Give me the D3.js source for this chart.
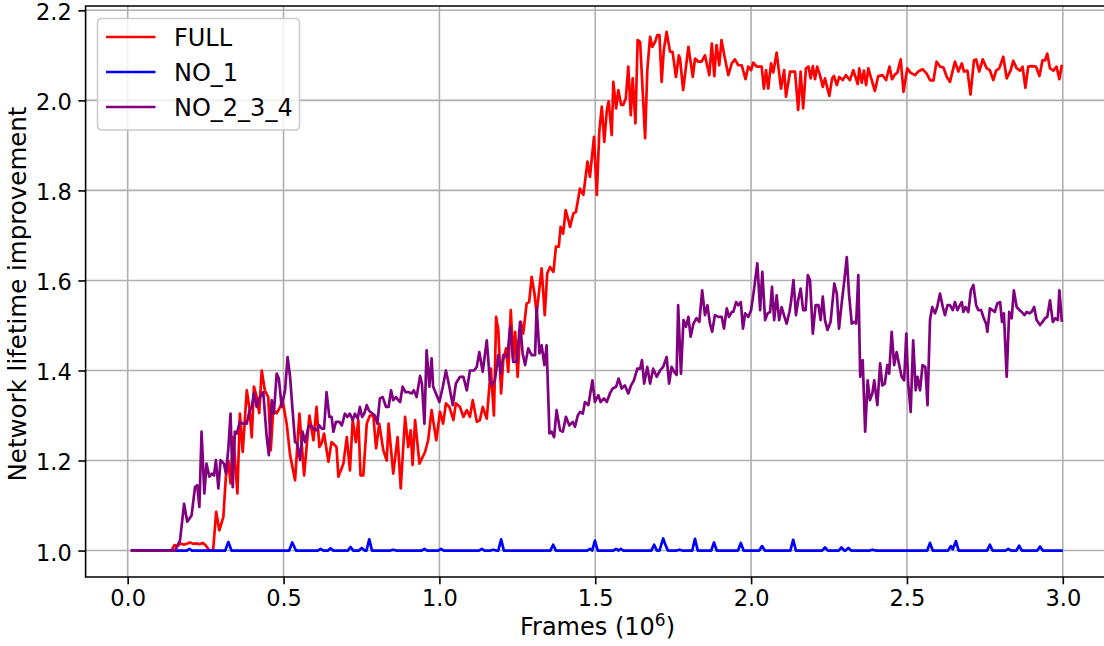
<!DOCTYPE html>
<html>
<head>
<meta charset="utf-8">
<script src="https://cdn.jsdelivr.net/npm/d3@7"></script>
<style>
	body { margin: 0; background: white; }
	svg { display: block; font-family: "DejaVu Sans", sans-serif; }
</style>
</head>
<body>
<svg id="plot" width="1104" height="646" viewBox="0 0 1104 646"></svg>
<script>

// series: [frames (1e6), lifetime improvement]
const full_points = [
	[0.01,1.0],[0.05,1.0],[0.10,1.0],[0.14,1.0],[0.15,1.012],[0.16,1.01],[0.17,1.016],[0.18,1.013],[0.19,1.015],
	[0.20,1.018],[0.21,1.015],[0.22,1.016],[0.23,1.014],[0.24,1.017],[0.25,1.012],[0.262,1.0],[0.274,1.0],
	[0.284,1.086],[0.294,1.045],[0.307,1.075],[0.315,1.164],[0.323,1.20],[0.330,1.149],[0.339,1.252],[0.352,1.127],
	[0.360,1.304],[0.369,1.219],[0.382,1.356],[0.390,1.319],[0.398,1.252],[0.405,1.364],[0.414,1.341],[0.422,1.305],
	[0.430,1.40],[0.440,1.356],[0.451,1.341],[0.459,1.223],[0.467,1.312],[0.478,1.305],[0.489,1.319],[0.497,1.334],
	[0.510,1.282],[0.521,1.212],[0.537,1.156],[0.551,1.304],[0.566,1.167],[0.583,1.30],[0.596,1.245],[0.606,1.319],
	[0.615,1.23],[0.622,1.238],[0.630,1.26],[0.644,1.197],[0.654,1.241],[0.670,1.23],[0.676,1.164],[0.692,1.193],
	[0.703,1.252],[0.713,1.178],[0.722,1.29],[0.732,1.241],[0.740,1.29],[0.747,1.167],[0.756,1.167],[0.767,1.282],
	[0.777,1.30],[0.788,1.30],[0.797,1.227],[0.807,1.282],[0.820,1.223],[0.831,1.20],[0.837,1.282],[0.852,1.171],
	[0.866,1.252],[0.876,1.138],[0.890,1.297],[0.900,1.23],[0.908,1.267],[0.914,1.19],[0.922,1.29],[0.936,1.193],
	[0.954,1.219],[0.964,1.245],[0.975,1.312],[0.990,1.245],[1.002,1.308],[1.012,1.282],[1.021,1.327],[1.032,1.319],
	[1.045,1.29],[1.053,1.327],[1.066,1.319],[1.077,1.297],[1.088,1.312],[1.098,1.297],[1.107,1.334],[1.120,1.286],
	[1.130,1.29],[1.139,1.319],[1.152,1.293],[1.165,1.404],[1.175,1.30],[1.182,1.519],[1.189,1.49],[1.198,1.349],
	[1.205,1.423],[1.214,1.449],[1.221,1.397],[1.229,1.534],[1.237,1.423],[1.243,1.486],[1.251,1.386],[1.261,1.508],
	[1.269,1.482],[1.280,1.549],[1.288,1.552],[1.296,1.608],[1.305,1.571],[1.312,1.527],[1.328,1.627],[1.338,1.523],
	[1.346,1.616],[1.355,1.63],[1.366,1.619],[1.374,1.675],[1.383,1.675],[1.389,1.719],[1.397,1.704],[1.405,1.756],
	[1.414,1.734],[1.419,1.719],[1.430,1.749],[1.438,1.752],[1.451,1.804],[1.462,1.79],[1.475,1.864],[1.483,1.83],
	[1.496,1.919],[1.505,1.79],[1.513,1.93],[1.521,1.986],[1.529,1.908],[1.537,1.977],[1.543,1.998],[1.553,1.923],
	[1.558,2.041],[1.567,1.982],[1.574,2.023],[1.583,1.99],[1.590,1.99],[1.598,2.004],[1.606,2.075],[1.614,1.967],
	[1.620,2.049],[1.629,1.949],[1.636,2.134],[1.644,2.13],[1.660,1.916],[1.667,2.067],[1.676,2.141],[1.683,2.119],
	[1.692,2.13],[1.699,2.145],[1.706,2.145],[1.713,2.041],[1.720,2.112],[1.729,2.152],[1.740,2.108],[1.748,2.108],
	[1.759,2.052],[1.768,2.10],[1.772,2.093],[1.782,2.023],[1.799,2.119],[1.813,2.052],[1.820,2.093],[1.831,2.086],
	[1.841,2.086],[1.852,2.10],[1.866,2.056],[1.874,2.126],[1.882,2.054],[1.889,2.123],[1.898,2.078],[1.905,2.134],
	[1.914,2.10],[1.927,2.056],[1.938,2.082],[1.948,2.091],[1.959,2.078],[1.970,2.078],[1.982,2.047],[1.991,2.075],
	[2.000,2.067],[2.007,2.084],[2.018,2.075],[2.034,2.075],[2.041,2.026],[2.048,2.067],[2.055,2.026],[2.064,2.082],
	[2.071,2.062],[2.082,2.106],[2.096,2.026],[2.106,2.067],[2.112,2.008],[2.125,2.064],[2.141,2.064],[2.151,1.979],
	[2.159,2.064],[2.167,1.982],[2.176,2.071],[2.184,2.075],[2.191,2.049],[2.198,2.076],[2.205,2.047],[2.212,2.075],
	[2.221,2.056],[2.230,2.03],[2.237,2.049],[2.251,2.01],[2.260,2.049],[2.266,2.054],[2.275,2.034],[2.283,2.052],
	[2.294,2.045],[2.304,2.056],[2.317,2.045],[2.328,2.067],[2.334,2.054],[2.342,2.036],[2.347,2.071],[2.355,2.039],
	[2.362,2.066],[2.369,2.034],[2.376,2.071],[2.387,2.045],[2.397,2.021],[2.408,2.054],[2.422,2.056],[2.433,2.045],
	[2.444,2.075],[2.452,2.047],[2.462,2.058],[2.469,2.061],[2.480,2.091],[2.489,2.019],[2.501,2.071],[2.512,2.061],
	[2.526,2.056],[2.536,2.064],[2.550,2.069],[2.563,2.06],[2.574,2.045],[2.585,2.044],[2.595,2.086],[2.606,2.075],
	[2.617,2.073],[2.628,2.052],[2.638,2.041],[2.654,2.086],[2.665,2.064],[2.676,2.082],[2.683,2.064],[2.694,2.066],
	[2.704,2.013],[2.715,2.089],[2.722,2.091],[2.732,2.064],[2.743,2.091],[2.756,2.071],[2.766,2.067],[2.777,2.045],
	[2.786,2.066],[2.796,2.071],[2.809,2.097],[2.820,2.049],[2.833,2.067],[2.841,2.088],[2.852,2.071],[2.863,2.066],
	[2.871,2.075],[2.880,2.028],[2.889,2.075],[2.900,2.076],[2.914,2.075],[2.925,2.054],[2.935,2.089],[2.943,2.089],
	[2.950,2.104],[2.959,2.071],[2.970,2.066],[2.980,2.075],[2.989,2.047],[2.997,2.079]
];

const no1_points = [
	[0.01,1],[0.19,1],[0.198,1.004],[0.206,1],[0.313,1],[0.323,1.019],[0.333,1],[0.518,1],[0.528,1.018],[0.54,1],
	[0.61,1],[0.619,1.004],[0.628,1],[0.642,1],[0.651,1.005],[0.66,1],[0.706,1],[0.715,1.008],[0.724,1],[0.742,1],
	[0.751,1.006],[0.76,1],[0.766,1],[0.775,1.025],[0.784,1],[0.843,1],[0.852,1.002],[0.861,1],[0.943,1],[0.952,1.004],
	[0.961,1],[0.996,1],[1.005,1.004],[1.014,1],[1.127,1],[1.136,1.004],[1.145,1],[1.164,1],[1.173,1.002],[1.182,1],
	[1.189,1],[1.198,1.025],[1.207,1],[1.356,1],[1.365,1.013],[1.374,1],[1.474,1],[1.483,1.004],[1.49,1],[1.499,1.022],
	[1.508,1],[1.558,1],[1.567,1.004],[1.575,1],[1.582,1.004],[1.59,1],[1.68,1],[1.689,1.013],[1.698,1],[1.706,1],
	[1.718,1.027],[1.724,1.015],[1.733,1],[1.761,1],[1.77,1.002],[1.779,1],[1.811,1],[1.82,1.026],[1.829,1],[1.872,1],
	[1.881,1.018],[1.89,1],[1.958,1],[1.967,1.017],[1.976,1],[2.026,1],[2.035,1.01],[2.044,1],[2.126,1],[2.135,1.024],
	[2.144,1],[2.228,1],[2.237,1.007],[2.246,1],[2.281,1],[2.29,1.007],[2.299,1],[2.303,1],[2.312,1.006],[2.321,1],
	[2.381,1],[2.39,1.002],[2.399,1],[2.565,1],[2.574,1.017],[2.583,1],[2.632,1],[2.641,1.01],[2.647,1.003],[2.657,1.021],
	[2.666,1],[2.757,1],[2.766,1.013],[2.775,1],[2.816,1],[2.825,1.004],[2.834,1],[2.851,1],[2.86,1.011],[2.869,1],
	[2.918,1],[2.927,1.009],[2.936,1],[3.0,1]
];

const no234_points = [
	[0.01,1.0],[0.10,1.0],[0.152,1.0],[0.168,1.023],[0.181,1.104],[0.191,1.064],[0.205,1.078],[0.216,1.141],
	[0.223,1.145],[0.230,1.097],[0.237,1.264],[0.246,1.127],[0.253,1.193],[0.262,1.164],[0.270,1.171],[0.277,1.167],
	[0.283,1.201],[0.291,1.138],[0.298,1.201],[0.309,1.193],[0.315,1.171],[0.323,1.227],[0.330,1.304],[0.337,1.141],
	[0.344,1.264],[0.350,1.26],[0.360,1.286],[0.369,1.282],[0.382,1.282],[0.390,1.308],[0.398,1.319],[0.405,1.349],
	[0.414,1.319],[0.422,1.338],[0.435,1.352],[0.446,1.252],[0.453,1.212],[0.462,1.334],[0.469,1.304],[0.478,1.393],
	[0.485,1.382],[0.494,1.319],[0.505,1.356],[0.513,1.43],[0.521,1.386],[0.529,1.312],[0.537,1.241],[0.544,1.238],
	[0.553,1.201],[0.561,1.264],[0.569,1.241],[0.580,1.275],[0.588,1.278],[0.596,1.271],[0.606,1.267],[0.615,1.278],
	[0.622,1.271],[0.630,1.271],[0.638,1.352],[0.647,1.297],[0.654,1.297],[0.660,1.264],[0.668,1.286],[0.679,1.286],
	[0.687,1.278],[0.697,1.304],[0.705,1.297],[0.713,1.304],[0.722,1.29],[0.729,1.304],[0.738,1.293],[0.745,1.319],
	[0.752,1.297],[0.759,1.304],[0.767,1.323],[0.775,1.31],[0.786,1.304],[0.793,1.30],[0.801,1.282],[0.809,1.338],
	[0.818,1.341],[0.829,1.319],[0.837,1.319],[0.845,1.356],[0.852,1.334],[0.861,1.341],[0.868,1.334],[0.874,1.33],
	[0.882,1.364],[0.891,1.352],[0.900,1.352],[0.911,1.349],[0.918,1.356],[0.927,1.341],[0.938,1.388],[0.944,1.371],
	[0.952,1.282],[0.959,1.445],[0.968,1.364],[0.975,1.427],[0.980,1.364],[0.989,1.349],[1.000,1.33],[1.011,1.364],
	[1.021,1.40],[1.032,1.364],[1.043,1.323],[1.053,1.371],[1.066,1.386],[1.077,1.386],[1.088,1.356],[1.098,1.40],
	[1.111,1.40],[1.120,1.408],[1.128,1.441],[1.139,1.397],[1.152,1.467],[1.162,1.378],[1.168,1.367],[1.178,1.378],
	[1.189,1.434],[1.197,1.393],[1.205,1.434],[1.218,1.43],[1.227,1.497],[1.237,1.419],[1.248,1.419],[1.259,1.508],
	[1.267,1.438],[1.275,1.412],[1.285,1.449],[1.296,1.434],[1.307,1.434],[1.312,1.541],[1.321,1.438],[1.328,1.456],
	[1.337,1.412],[1.344,1.456],[1.353,1.26],[1.360,1.264],[1.368,1.252],[1.376,1.312],[1.387,1.267],[1.396,1.264],
	[1.406,1.297],[1.417,1.278],[1.428,1.286],[1.435,1.275],[1.444,1.30],[1.451,1.308],[1.460,1.304],[1.467,1.33],
	[1.478,1.323],[1.491,1.378],[1.499,1.33],[1.510,1.345],[1.517,1.33],[1.528,1.338],[1.537,1.33],[1.547,1.349],
	[1.556,1.36],[1.567,1.364],[1.575,1.382],[1.585,1.36],[1.595,1.367],[1.606,1.349],[1.615,1.367],[1.624,1.378],
	[1.635,1.404],[1.644,1.404],[1.650,1.423],[1.657,1.371],[1.667,1.408],[1.676,1.371],[1.686,1.404],[1.697,1.386],
	[1.708,1.40],[1.718,1.408],[1.729,1.43],[1.737,1.371],[1.745,1.408],[1.753,1.397],[1.761,1.39],[1.766,1.545],
	[1.775,1.393],[1.783,1.512],[1.791,1.497],[1.799,1.519],[1.806,1.475],[1.815,1.504],[1.825,1.516],[1.834,1.508],
	[1.843,1.578],[1.852,1.523],[1.860,1.545],[1.868,1.504],[1.875,1.486],[1.884,1.523],[1.895,1.519],[1.906,1.519],
	[1.913,1.493],[1.922,1.538],[1.929,1.519],[1.938,1.53],[1.943,1.53],[1.952,1.552],[1.959,1.545],[1.967,1.552],
	[1.974,1.493],[1.981,1.527],[1.991,1.519],[2.000,1.534],[2.009,1.578],[2.020,1.638],[2.029,1.534],[2.036,1.619],
	[2.045,1.512],[2.053,1.527],[2.061,1.53],[2.067,1.586],[2.074,1.512],[2.082,1.567],[2.090,1.512],[2.098,1.541],
	[2.107,1.519],[2.114,1.504],[2.123,1.53],[2.128,1.552],[2.136,1.601],[2.144,1.523],[2.151,1.556],[2.159,1.582],
	[2.167,1.534],[2.175,1.534],[2.182,1.612],[2.189,1.601],[2.198,1.482],[2.207,1.545],[2.216,1.545],[2.223,1.512],
	[2.230,1.564],[2.237,1.512],[2.245,1.49],[2.255,1.508],[2.267,1.593],[2.275,1.571],[2.282,1.493],[2.291,1.552],
	[2.298,1.593],[2.307,1.652],[2.314,1.571],[2.323,1.504],[2.331,1.508],[2.337,1.504],[2.344,1.612],[2.350,1.386],
	[2.358,1.423],[2.366,1.264],[2.374,1.378],[2.381,1.334],[2.389,1.349],[2.395,1.378],[2.405,1.323],[2.414,1.416],
	[2.421,1.367],[2.429,1.371],[2.437,1.412],[2.443,1.393],[2.451,1.486],[2.459,1.412],[2.467,1.441],[2.474,1.416],
	[2.483,1.386],[2.491,1.378],[2.498,1.482],[2.504,1.371],[2.512,1.308],[2.520,1.467],[2.528,1.356],[2.534,1.386],
	[2.542,1.356],[2.550,1.412],[2.559,1.408],[2.566,1.323],[2.574,1.512],[2.581,1.541],[2.590,1.527],[2.597,1.541],
	[2.606,1.571],[2.615,1.541],[2.622,1.523],[2.630,1.545],[2.638,1.545],[2.647,1.534],[2.654,1.552],[2.662,1.534],
	[2.670,1.545],[2.676,1.552],[2.681,1.53],[2.688,1.541],[2.697,1.53],[2.705,1.578],[2.713,1.59],[2.722,1.545],
	[2.729,1.534],[2.738,1.534],[2.745,1.519],[2.754,1.504],[2.758,1.486],[2.766,1.538],[2.774,1.534],[2.782,1.53],
	[2.790,1.549],[2.799,1.552],[2.805,1.508],[2.811,1.527],[2.820,1.386],[2.828,1.53],[2.836,1.516],[2.843,1.578],
	[2.852,1.541],[2.861,1.534],[2.868,1.53],[2.877,1.523],[2.884,1.53],[2.893,1.527],[2.900,1.53],[2.908,1.541],
	[2.916,1.512],[2.927,1.501],[2.935,1.508],[2.943,1.516],[2.950,1.519],[2.959,1.556],[2.968,1.508],[2.976,1.516],
	[2.984,1.512],[2.989,1.578],[2.997,1.508]
];

const series_names = ["FULL", "NO_1", "NO_2_3_4"];
const series_colors = ["red", "blue", "purple"];
const x_ticks = [0.0, 0.5, 1.0, 1.5, 2.0, 2.5, 3.0];
const y_ticks = [1.0, 1.2, 1.4, 1.6, 1.8, 2.0, 2.2];


class LinePlot {

	constructor(svg_element_id) {
		this.svg = d3.select('#' + svg_element_id);

		// plot area in svg space (right edge falls outside the picture)
		const left = 85.6, right = 1109.4, top = 6, bottom = 577;

		const x = d3.scaleLinear().domain([-0.135, 3.1495]).range([left, right]);
		const y = d3.scaleLinear().domain([0.9413, 2.2096]).range([bottom, top]);

		const defs = this.svg.append("defs");
		defs.append("clipPath")
			.attr("id", "plot-clip")
			.append("rect")
			.attr("x", left).attr("y", top)
			.attr("width", right - left).attr("height", bottom - top);

		// grid
		const grid = this.svg.append("g").attr("class", "grid");
		grid.selectAll(".vgrid")
			.data(x_ticks)
			.enter().append("line")
			.attr("x1", d => x(d)).attr("x2", d => x(d))
			.attr("y1", top).attr("y2", bottom)
			.style("stroke", "#b0b0b0")
			.style("stroke-width", "1.6px");
		grid.selectAll(".hgrid")
			.data(y_ticks)
			.enter().append("line")
			.attr("x1", left).attr("x2", right)
			.attr("y1", d => y(d)).attr("y2", d => y(d))
			.style("stroke", "#b0b0b0")
			.style("stroke-width", "1.6px");

		// series lines
		const line_gen = d3.line()
			.x(d => x(d[0]))
			.y(d => y(d[1]));

		const all_series = [full_points, no1_points, no234_points];

		this.svg.append("g")
			.attr("clip-path", "url(#plot-clip)")
			.selectAll(".series")
			.data(all_series)
			.enter().append("path")
			.attr("d", line_gen)
			.style("fill", "none")
			.style("stroke", (d, i) => series_colors[i])
			.style("stroke-width", "2.7px")
			.style("stroke-linejoin", "round")
			.style("stroke-linecap", "butt");

		// axes
		const x_axis = d3.axisBottom(x)
			.tickValues(x_ticks)
			.tickFormat(d3.format(".1f"))
			.tickSize(7.3)
			.tickPadding(6.2)
			.tickSizeOuter(0);
		const y_axis = d3.axisLeft(y)
			.tickValues(y_ticks)
			.tickFormat(d3.format(".1f"))
			.tickSize(7.3)
			.tickPadding(6.5)
			.tickSizeOuter(0);

		const xg = this.svg.append("g")
			.attr("transform", "translate(0," + bottom + ")")
			.call(x_axis);
		const yg = this.svg.append("g")
			.attr("transform", "translate(" + left + ",0)")
			.call(y_axis);

		[xg, yg].forEach(g => {
			g.select(".domain").remove();
			g.selectAll(".tick line").style("stroke", "black").style("stroke-width", "1.6px");
			g.selectAll(".tick text")
				.style("font-family", "DejaVu Sans")
				.style("font-size", "22.5px")
				.style("fill", "black");
		});
		// ytick labels sit a bit under the tick (matplotlib center_baseline)
		yg.selectAll(".tick text").attr("dy", "0.42em");

		// spines (left, top, bottom)
		this.svg.append("path")
			.attr("d", "M" + right + "," + top + "H" + left + "V" + bottom + "H" + right)
			.style("fill", "none")
			.style("stroke", "black")
			.style("stroke-width", "1.6px");

		// axis labels
		const xlabel = this.svg.append("text")
			.attr("x", (left + right) / 2)
			.attr("y", 635)
			.attr("text-anchor", "middle")
			.style("font-size", "24px")
			.text("Frames (10");
		xlabel.append("tspan")
			.attr("dy", "-9")
			.style("font-size", "17px")
			.text("6");
		xlabel.append("tspan")
			.attr("dy", "9")
			.text(")");

		this.svg.append("text")
			.attr("transform", "translate(26," + 294 + ") rotate(-90)")
			.attr("text-anchor", "middle")
			.style("font-size", "24.5px")
			.text("Network lifetime improvement");

		this.makeLegend([97.5, 18.5], [202, 111.5]);
	}

	makeLegend(top_left, size) {
		const legend_g = this.svg.append("g")
			.attr("transform", "translate(" + top_left[0] + "," + top_left[1] + ")");

		legend_g.append("rect")
			.attr("width", size[0])
			.attr("height", size[1])
			.attr("rx", 4)
			.style("fill", "white")
			.style("fill-opacity", 0.8)
			.style("stroke", "#cccccc")
			.style("stroke-width", "1.6px");

		const rows = legend_g.selectAll(".legend-row")
			.data(series_names)
			.enter().append("g")
			.attr("transform", (d, i) => "translate(0," + (18.5 + i * 35) + ")");

		rows.append("line")
			.attr("x1", 8.5).attr("x2", 58)
			.style("stroke", (d, i) => series_colors[i])
			.style("stroke-width", "2.7px");

		rows.append("text")
			.attr("x", 76.5)
			.attr("y", 8.5)
			.style("font-size", "24px")
			.text(d => d);
	}
}

function whenDocumentLoaded(action) {
	if (document.readyState === "loading") {
		document.addEventListener("DOMContentLoaded", action);
	} else {
		action();
	}
}

whenDocumentLoaded(() => {
	plot_object = new LinePlot('plot');
});
</script>
</body>
</html>
